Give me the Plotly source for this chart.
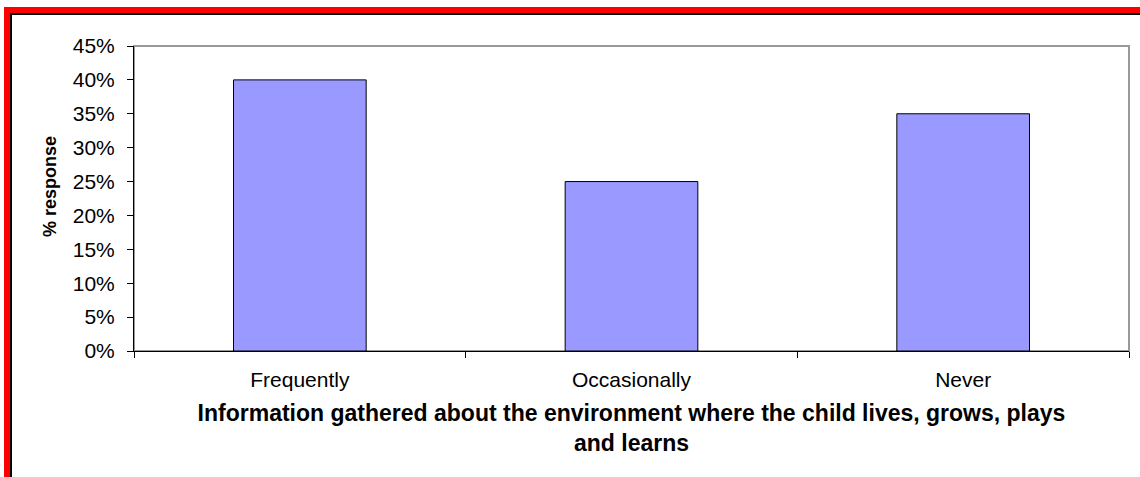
import plotly.graph_objects as go

categories = ["Frequently", "Occasionally", "Never"]
values = [40, 25, 35]
y_ticks = [0, 5, 10, 15, 20, 25, 30, 35, 40, 45]
y_tick_labels = [f"{v}%" for v in y_ticks]
y_title = "% response"
x_title = "Information gathered about the environment where the child lives, grows, plays<br>and learns"

W, H = 1140, 477
L, R, T, B = 134, 1129, 46, 351
pw, ph = R - L, B - T

def px(x):
    return (x - L) / pw

def py(y):
    return (B - y) / ph

fig = go.Figure()
fig.add_trace(go.Bar(
    x=categories, y=values,
    marker=dict(color="#9999FF", line=dict(color="black", width=1)),
    width=0.4,
))

shapes = [
    dict(type="rect", xref="paper", yref="paper", x0=0, x1=1, y0=0, y1=1,
         line=dict(color="#999999", width=2), layer="below"),
    dict(type="rect", xref="paper", yref="paper", x0=px(4), x1=px(1150), y0=py(7), y1=py(13),
         fillcolor="#FF0000", line=dict(width=0)),
    dict(type="rect", xref="paper", yref="paper", x0=px(10), x1=px(1150), y0=py(13), y1=py(15),
         fillcolor="#000000", line=dict(width=0)),
    dict(type="rect", xref="paper", yref="paper", x0=px(4), x1=px(10), y0=py(7), y1=py(490),
         fillcolor="#FF0000", line=dict(width=0)),
    dict(type="rect", xref="paper", yref="paper", x0=px(10), x1=px(12), y0=py(13), y1=py(490),
         fillcolor="#000000", line=dict(width=0)),
]

fig.update_layout(
    width=W, height=H,
    margin=dict(l=L, r=W - R, t=T, b=H - B, autoexpand=False),
    paper_bgcolor="white", plot_bgcolor="white",
    showlegend=False,
    bargap=0.6,
    font=dict(family="Liberation Sans, Arial, sans-serif", color="black", size=21),
    shapes=shapes,
    annotations=[dict(
        text="<b>" + y_title + "</b>", xref="paper", yref="paper",
        x=px(50), y=py(187), textangle=-90, showarrow=False,
        font=dict(size=18, color="black"), xanchor="center", yanchor="middle",
    )],
)
fig.update_xaxes(
    type="category", showline=True, linecolor="black", linewidth=1,
    ticks="outside", ticklen=6, tickcolor="black", tickson="boundaries",
    showgrid=False, tickfont=dict(size=21), ticklabelstandoff=10,
    title=dict(text="<b>" + x_title + "</b>", font=dict(size=23), standoff=14),
)
fig.update_yaxes(
    range=[0, 45], tickvals=y_ticks, ticktext=y_tick_labels, showline=True, linecolor="black",
    linewidth=1, ticks="outside", ticklen=6, tickcolor="black",
    showgrid=False, zeroline=False, tickfont=dict(size=21), ticklabelstandoff=8,
)

fig.write_html("out.html", post_script="document.body.style.margin='0';",
               config={"displayModeBar": False})
